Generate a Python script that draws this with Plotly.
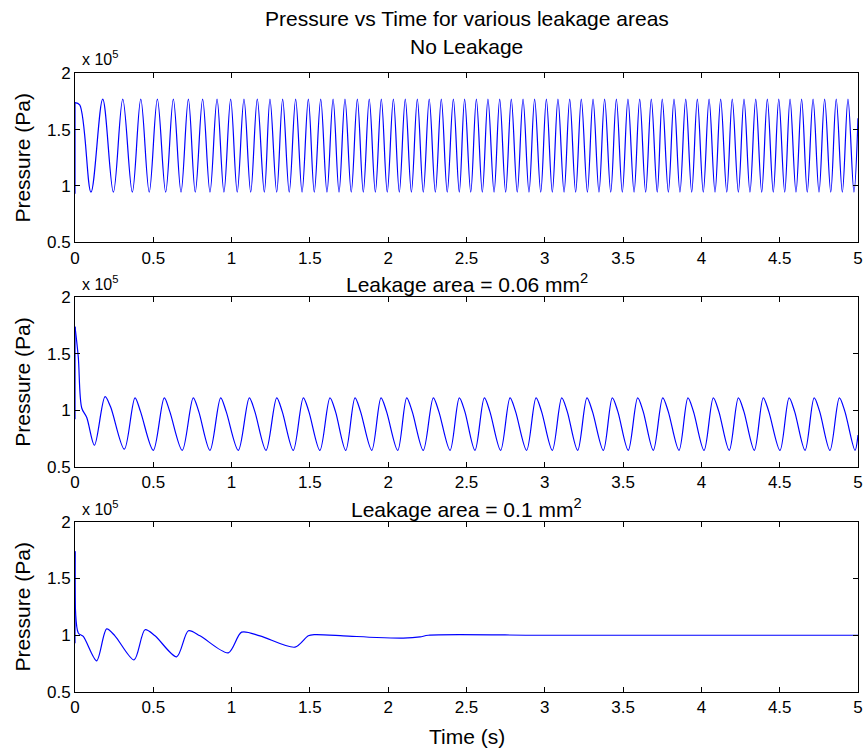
import plotly.graph_objects as go
from plotly.subplots import make_subplots

SCALE = 1e5  # pressures below are in units of 1e5 Pa

# ---------------- Panel 1: No leakage ----------------
p1_start_t = [0.0, 0.0, 0.03]
p1_start_p = [0.93, 1.74, 1.72]
p1_peak_t = [0.177, 0.305, 0.420, 0.526, 0.628, 0.724, 0.815, 0.907, 0.994, 1.079,
             1.164, 1.245, 1.326, 1.409, 1.490, 1.569, 1.648, 1.724, 1.803, 1.879,
             1.956, 2.033, 2.109, 2.186, 2.262, 2.339, 2.416, 2.488, 2.563, 2.637,
             2.712, 2.786, 2.861, 2.935, 3.010, 3.084, 3.159, 3.233, 3.308, 3.382,
             3.457, 3.531, 3.606, 3.680, 3.750, 3.825, 3.900, 3.974, 4.049, 4.123,
             4.197, 4.272, 4.347, 4.421, 4.494, 4.566, 4.640, 4.713, 4.787, 4.861,
             4.936]
p1_trough_t = [0.102, 0.245, 0.366, 0.474, 0.579, 0.677, 0.768, 0.862, 0.951, 1.036,
               1.122, 1.209, 1.288, 1.368, 1.450, 1.528, 1.609, 1.686, 1.764, 1.841,
               1.918, 1.994, 2.071, 2.148, 2.224, 2.301, 2.377, 2.454, 2.527, 2.601,
               2.676, 2.750, 2.824, 2.899, 2.974, 3.048, 3.123, 3.197, 3.272, 3.346,
               3.421, 3.495, 3.570, 3.644, 3.718, 3.789, 3.863, 3.938, 4.012, 4.087,
               4.162, 4.236, 4.310, 4.385, 4.459, 4.532, 4.604, 4.676, 4.751, 4.826,
               4.900, 4.974]
p1_peak_value = 1.77
p1_trough_value = 0.945
p1_end = (5.0, 1.6)

# ---------------- Panel 2: leakage area 0.06 mm^2 ----------------
p2_start_t = [0.0, 0.0, 0.021, 0.043, 0.075]
p2_start_p = [0.92, 1.74, 1.47, 1.02, 0.935]
p2_peak_t = [0.192, 0.383, 0.570, 0.755, 0.930, 1.113, 1.288, 1.458, 1.628, 1.788,
             1.954, 2.118, 2.288, 2.454, 2.614, 2.778, 2.944, 3.108, 3.269, 3.431,
             3.593, 3.753, 3.914, 4.076, 4.236, 4.395, 4.560, 4.720, 4.881]
p2_shoulder_t = [0.227, 0.418, 0.605, 0.790, 0.965, 1.148, 1.323, 1.493, 1.663, 1.823,
                 1.989, 2.153, 2.323, 2.489, 2.649, 2.813, 2.979, 3.143, 3.304, 3.466,
                 3.628, 3.788, 3.949, 4.111, 4.271, 4.430, 4.595, 4.755, 4.916]
p2_trough_t = [0.124, 0.315, 0.500, 0.685, 0.862, 1.043, 1.220, 1.394, 1.564, 1.729,
               1.895, 2.061, 2.224, 2.395, 2.554, 2.718, 2.884, 3.048, 3.210, 3.374,
               3.533, 3.693, 3.857, 4.017, 4.178, 4.338, 4.502, 4.662, 4.821, 4.981]
p2_peak_p = [1.12] + [1.11] * 28
p2_shoulder_p = [1.03] + [0.99] * 28
p2_trough_p = [0.69, 0.655] + [0.645] * 28
p2_end = (5.0, 0.78)

# ---------------- Panel 3: leakage area 0.1 mm^2 ----------------
p3_t = [0.0, 0.0, 0.021, 0.053, 0.138, 0.202, 0.255, 0.377, 0.447, 0.511,
        0.649, 0.724, 0.798, 0.979, 1.064, 1.181, 1.405, 1.490, 1.530, 1.713,
        1.926, 2.096, 2.203, 2.256, 3.0, 4.0, 5.0]
p3_p = [0.93, 1.74, 1.02, 0.99, 0.775, 1.056, 0.995, 0.783, 1.048, 0.995,
        0.81, 1.039, 0.995, 0.845, 1.027, 0.995, 0.895, 0.995, 1.005, 0.995,
        0.98, 0.975, 0.985, 1.0, 1.0, 1.0, 1.0]

x_ticks = [0, 0.5, 1, 1.5, 2, 2.5, 3, 3.5, 4, 4.5, 5]
x_tick_text = ["0", "0.5", "1", "1.5", "2", "2.5", "3", "3.5", "4", "4.5", "5"]
y_ticks = [0.5, 1, 1.5, 2]
y_tick_text = ["0.5", "1", "1.5", "2"]

titles = ["No Leakage", "Leakage area = 0.06 mm<sup>2</sup>", "Leakage area = 0.1 mm<sup>2</sup>"]


def merge(start_t, start_p, groups, end):
    pts = []
    for ts, ps in groups:
        pts += list(zip(ts, ps))
    pts.sort()
    t = list(start_t) + [a for a, _ in pts] + [end[0]]
    p = list(start_p) + [b for _, b in pts] + [end[1]]
    return t, p


t1, v1 = merge(p1_start_t[1:], p1_start_p[1:],
               [(p1_peak_t, [p1_peak_value] * len(p1_peak_t)),
                (p1_trough_t, [p1_trough_value] * len(p1_trough_t))], p1_end)
t2, v2 = merge(p2_start_t[1:], p2_start_p[1:],
               [(p2_peak_t, p2_peak_p), (p2_shoulder_t, p2_shoulder_p), (p2_trough_t, p2_trough_p)],
               p2_end)

fig = make_subplots(rows=3, cols=1)

BLUE = "rgb(0,0,255)"
FONT = "Liberation Sans, Arial, Helvetica, sans-serif"

fig.add_trace(go.Scatter(x=p1_start_t[:2], y=[v * SCALE for v in p1_start_p[:2]], mode="lines",
                         line=dict(color=BLUE, width=1.2)), row=1, col=1)
fig.add_trace(go.Scatter(x=t1, y=[v * SCALE for v in v1], mode="lines",
                         line=dict(color=BLUE, width=1.2, shape="spline", smoothing=1)), row=1, col=1)
fig.add_trace(go.Scatter(x=p2_start_t[:2], y=[v * SCALE for v in p2_start_p[:2]], mode="lines",
                         line=dict(color=BLUE, width=1.2)), row=2, col=1)
fig.add_trace(go.Scatter(x=t2, y=[v * SCALE for v in v2], mode="lines",
                         line=dict(color=BLUE, width=1.2, shape="spline", smoothing=0.9)), row=2, col=1)
fig.add_trace(go.Scatter(x=p3_t[:2], y=[v * SCALE for v in p3_p[:2]], mode="lines",
                         line=dict(color=BLUE, width=1.2)), row=3, col=1)
fig.add_trace(go.Scatter(x=p3_t[1:], y=[v * SCALE for v in p3_p[1:]], mode="lines",
                         line=dict(color=BLUE, width=1.2, shape="spline", smoothing=0.8)), row=3, col=1)

W, H = 868, 749
ML, MR, MT, MB = 75, 10, 73, 57
ph = H - MT - MB


def py2paper(py):
    return (H - MB - py) / ph


domains = [(242.3, 73.3), (466.7, 297.3), (692.0, 521.7)]
axis_common = dict(showgrid=False, zeroline=False, showline=True, linecolor="black", linewidth=1,
                   mirror="ticks", ticks="inside", ticklen=5, tickcolor="black", automargin=False,
                   tickfont=dict(family=FONT, size=17, color="black"))
for i, (b, t) in enumerate(domains, start=1):
    fig.update_xaxes(range=[0, 5], tickvals=x_ticks, ticktext=x_tick_text, row=i, col=1, **axis_common)
    fig.update_yaxes(range=[0.5 * SCALE, 2 * SCALE], tickvals=[v * SCALE for v in y_ticks],
                     ticktext=y_tick_text, domain=[py2paper(b), py2paper(t)], row=i, col=1,
                     title=dict(text="Pressure (Pa)", font=dict(family=FONT, size=21, color="black"),
                                standoff=10), **axis_common)

ann = []
ann.append(dict(text="Pressure vs Time for various leakage areas", x=0.5, y=py2paper(18), xref="paper",
                yref="paper", yanchor="middle", showarrow=False,
                font=dict(family=FONT, size=21, color="black")))
sub_y = [47, 283, 508]
ex_y = [58, 283, 508]
for i in range(3):
    ann.append(dict(text=titles[i], x=0.5, y=py2paper(sub_y[i]), xref="paper", yref="paper",
                    yanchor="middle", showarrow=False, font=dict(family=FONT, size=21, color="black")))
    ann.append(dict(text="x 10<sup>5</sup>", x=0.006, y=py2paper(ex_y[i]), xref="paper", yref="paper",
                    xanchor="left", yanchor="middle", showarrow=False,
                    font=dict(family=FONT, size=16, color="black")))
ann.append(dict(text="Time (s)", x=0.5, y=py2paper(736), xref="paper", yref="paper", yanchor="middle",
                showarrow=False, font=dict(family=FONT, size=21, color="black")))

fig.update_layout(width=W, height=H, margin=dict(l=ML, r=MR, t=MT, b=MB),
                  paper_bgcolor="white", plot_bgcolor="white", showlegend=False,
                  annotations=ann)

fig.write_html("out.html", config={"displayModeBar": False},
               post_script="document.body.style.margin='0px';document.body.style.padding='0px';")
